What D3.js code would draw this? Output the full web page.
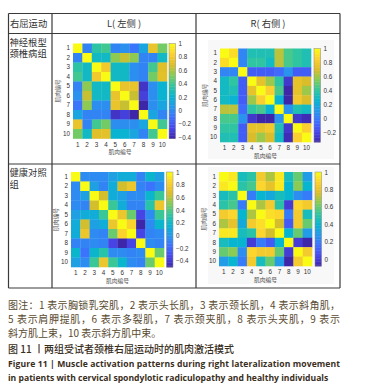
<!DOCTYPE html>
<html><head><meta charset="utf-8">
<script src="https://cdn.jsdelivr.net/npm/d3@7"></script>
<style>body{margin:0;background:#fff}</style>
</head><body><svg id="c" width="381" height="388"></svg>
<script>
// ---------------- DATA ----------------
const muscles = ["1","2","3","4","5","6","7","8","9","10"];
const axisTitle = "肌肉编号";
const headerLabels = ["右屈运动", "L( 左侧 )", "R( 右侧 )"];
const rowLabels = ["神经根型颈椎病组", "健康对照组"];

// patients, left side
const matPatientL = [
  [1.00,-0.02, 0.35, 0.40,-0.02, 0.03,-0.08, 0.12, 0.75, 0.50],
  [-0.02,1.00, 0.25, 0.25, 0.55, 0.65, 0.55,-0.02,-0.02, 0.25],
  [0.35, 0.25, 1.00, 0.80, 0.25, 0.25, 0.02,-0.02, 0.40, 0.70],
  [0.40, 0.25, 0.80, 1.00, 0.25, 0.25, 0.02,-0.02, 0.50, 0.72],
  [-0.02,0.55, 0.25, 0.25, 1.00, 0.75, 0.75,-0.35, 0.02, 0.20],
  [0.03, 0.65, 0.25, 0.25, 0.75, 1.00, 0.65,-0.30, 0.02, 0.20],
  [-0.08,0.55, 0.02, 0.02, 0.75, 0.65, 1.00,-0.42, 0.02, 0.12],
  [0.12,-0.02,-0.02,-0.02,-0.35,-0.30,-0.42, 1.00, 0.12,-0.02],
  [0.75,-0.02, 0.40, 0.50, 0.02, 0.02, 0.02, 0.12, 1.00, 0.40],
  [0.50, 0.25, 0.70, 0.72, 0.20, 0.20, 0.12,-0.02, 0.40, 1.00]
];
// patients, right side
const matPatientR = [
  [1.00, 0.90, 0.05, 0.35, 0.35, 0.35, 0.65, 0.45, 0.40, 0.35],
  [0.90, 1.00, 0.05, 0.40, 0.40, 0.30, 0.65, 0.45, 0.40, 0.35],
  [0.05, 0.05, 1.00,-0.10,-0.10,-0.10,-0.05, 0.10,-0.10,-0.10],
  [0.30, 0.40,-0.10, 1.00, 0.75, 0.60, 0.40,-0.25, 0.75, 0.70],
  [0.30, 0.35,-0.10, 0.75, 1.00, 0.85, 0.45,-0.33, 0.75, 0.60],
  [0.30, 0.25,-0.10, 0.60, 0.85, 1.00, 0.25,-0.33, 0.80, 0.70],
  [0.65, 0.65,-0.05, 0.40, 0.45, 0.25, 1.00, 0.10, 0.35, 0.30],
  [0.45, 0.45, 0.10,-0.25,-0.33,-0.33, 0.10, 1.00,-0.25,-0.30],
  [0.40, 0.40,-0.10, 0.75, 0.75, 0.80, 0.35,-0.25, 1.00, 0.85],
  [0.35, 0.35,-0.10, 0.70, 0.60, 0.70, 0.30,-0.30, 0.85, 1.00]
];
// healthy, left side
const matHealthyL = [
  [1.00,-0.05,-0.05,-0.05, 0.05, 0.12, 0.12,-0.08, 0.18, 0.05],
  [-0.05,1.00, 0.05,-0.08, 0.12, 0.65, 0.75,-0.08,-0.15,-0.05],
  [-0.05,0.05, 1.00, 0.65, 0.12, 0.05,-0.05,-0.05, 0.18, 0.35],
  [-0.05,-0.08,0.65, 1.00, 0.35, 0.12,-0.08,-0.08, 0.30, 0.75],
  [0.05, 0.12, 0.12, 0.35, 1.00, 0.75, 0.45,-0.35,-0.05, 0.35],
  [0.12, 0.65, 0.05, 0.12, 0.75, 1.00, 0.85,-0.50,-0.05, 0.18],
  [0.12, 0.75,-0.05,-0.08, 0.45, 0.85, 1.00,-0.35,-0.08,-0.05],
  [-0.08,-0.08,-0.05,-0.08,-0.35,-0.50,-0.35, 1.00,-0.05,-0.08],
  [0.18,-0.15, 0.18, 0.30,-0.05,-0.05,-0.08,-0.05, 1.00, 0.45],
  [0.05,-0.05, 0.35, 0.75, 0.35, 0.18,-0.05,-0.08, 0.45, 1.00]
];
// healthy, right side
const matHealthyR = [
  [1.00, 0.95, 0.45, 0.50, 0.85, 0.70, 0.95, 0.45, 0.60, 0.30],
  [0.95, 1.00, 0.50, 0.55, 0.90, 0.80, 0.95, 0.40, 0.65, 0.40],
  [0.45, 0.50, 1.00, 0.20, 0.40, 0.35, 0.45, 0.40, 0.25, 0.20],
  [0.50, 0.55, 0.20, 1.00, 0.70, 0.85, 0.50, 0.00, 0.90, 0.85],
  [0.85, 0.90, 0.40, 0.70, 1.00, 0.92, 0.90, 0.20, 0.85, 0.45],
  [0.70, 0.80, 0.35, 0.85, 0.92, 1.00, 0.75, 0.10, 0.85, 0.60],
  [0.95, 0.95, 0.45, 0.50, 0.90, 0.75, 1.00, 0.40, 0.60, 0.30],
  [0.45, 0.40, 0.40, 0.00, 0.20, 0.10, 0.40, 1.00, 0.00,-0.08],
  [0.60, 0.65, 0.25, 0.90, 0.85, 0.85, 0.60, 0.00, 1.00, 0.85],
  [0.30, 0.40, 0.20, 0.85, 0.45, 0.60, 0.30,-0.08, 0.85, 1.00]
];

const captionNote = [
  "图注：1 表示胸锁乳突肌，2 表示头长肌，3 表示颈长肌，4 表示斜角肌，",
  "5 表示肩胛提肌，6 表示多裂肌，7 表示颈夹肌，8 表示头夹肌，9 表示",
  "斜方肌上束，10 表示斜方肌中束。"
];
const captionTitleCN = "图 11 丨两组受试者颈椎右屈运动时的肌肉激活模式";
const captionTitleEN = [
  "Figure 11  |  Muscle activation patterns during right lateralization movement",
  "in patients with cervical spondylotic radiculopathy and healthy individuals"
];

// ---------------- DRAW ----------------
const svg = d3.select("#c");
const CJK = "'Noto Sans CJK SC', 'Noto Sans', sans-serif";
const SANS = "'Liberation Sans', Arial, sans-serif";

// parula colormap (10 samples)
const parulaRGB = [
  [0.2422,0.1504,0.6603],[0.2803,0.2782,0.9221],[0.2440,0.4358,0.9988],
  [0.1540,0.5902,0.9218],[0.0297,0.7082,0.8163],[0.1938,0.7758,0.6251],
  [0.5044,0.7993,0.3480],[0.8634,0.7406,0.1596],[0.9892,0.8136,0.1885],
  [0.9769,0.9839,0.0805]
].map(c => d3.rgb(c[0]*255, c[1]*255, c[2]*255).toString());
const parula = d3.scaleLinear()
  .domain(parulaRGB.map((_, i) => i / (parulaRGB.length - 1))).range(parulaRGB)
  .interpolate(d3.interpolateRgb).clamp(true);

// Table
const tbl = svg.append("g").attr("stroke", "#3a3a3a").attr("stroke-width", 1.2);
const tx = [8.5, 52, 196, 340], ty = [13.5, 33.5, 164, 288];
tx.forEach(x => tbl.append("line").attr("x1", x).attr("x2", x).attr("y1", ty[0]).attr("y2", ty[3]));
ty.forEach(y => tbl.append("line").attr("x1", tx[0]).attr("x2", tx[3]).attr("y1", y).attr("y2", y));

svg.append("text").attr("x", 10).attr("y", 27).text(headerLabels[0])
  .attr("font-family", CJK).attr("font-size", 9.3).attr("fill", "#333");
svg.append("text").attr("x", (tx[1]+tx[2])/2).attr("y", 27).attr("text-anchor", "middle").text(headerLabels[1])
  .attr("font-family", CJK).attr("font-size", 9.3).attr("fill", "#333");
svg.append("text").attr("x", (tx[2]+tx[3])/2).attr("y", 27).attr("text-anchor", "middle").text(headerLabels[2])
  .attr("font-family", CJK).attr("font-size", 9.3).attr("fill", "#333");
// row labels wrap inside their table cell
rowLabels.forEach((s, r) => {
  svg.append("foreignObject").attr("x", 9.5).attr("y", ty[r+1] + 3).attr("width", 40).attr("height", 30)
    .append("xhtml:div")
    .style("font-family", CJK).style("font-size", "9.3px").style("line-height", "11.5px")
    .style("color", "#333").style("word-break", "break-all")
    .text(s);
});

// Heatmap panels
const panels = [
  {m: matPatientL, x: 73, y: 43.5, w: 94, h: 95, cbx: 169, bg: null},
  {m: matPatientR, x: 220, y: 48.5, w: 91, h: 93.5, cbx: 314, bg: [208, 40, 126, 119]},
  {m: matHealthyL, x: 71, y: 172, w: 93, h: 95, cbx: 166.5, bg: null},
  {m: matHealthyR, x: 219, y: 172, w: 93, h: 94, cbx: 315, bg: [208, 167, 126, 117]}
];

panels.forEach(p => {
  const g = svg.append("g");
  if (p.bg) g.append("rect").attr("x", p.bg[0]).attr("y", p.bg[1]).attr("width", p.bg[2]).attr("height", p.bg[3]).attr("fill", "#f8f8f8");
  const flat = p.m.flat();
  const [vmin, vmax] = d3.extent(flat);
  const color = v => parula((v - vmin) / (vmax - vmin));
  const xs = d3.scaleBand().domain(muscles).range([p.x, p.x + p.w]);
  const ys = d3.scaleBand().domain(muscles).range([p.y, p.y + p.h]);
  const cells = [];
  p.m.forEach((row, i) => row.forEach((v, j) => cells.push({r: muscles[i], c: muscles[j], v})));
  g.selectAll("rect.cell").data(cells).join("rect").attr("class", "cell")
    .attr("x", d => xs(d.c)).attr("y", d => ys(d.r))
    .attr("width", xs.bandwidth() + 0.3).attr("height", ys.bandwidth() + 0.3)
    .attr("fill", d => color(d.v));

  // axes
  const xa = g.append("g").attr("transform", `translate(0,${p.y + p.h})`)
    .call(d3.axisBottom(xs).tickSize(0).tickPadding(4));
  const ya = g.append("g").attr("transform", `translate(${p.x},0)`)
    .call(d3.axisLeft(ys).tickSize(0).tickPadding(3));
  [xa, ya].forEach(a => {
    a.select(".domain").remove();
    a.selectAll("text").attr("font-family", SANS).attr("font-size", 6.3).attr("fill", "#333");
  });
  g.append("text").attr("x", p.x + p.w/2).attr("y", p.y + p.h + 15.5).attr("text-anchor", "middle")
    .text(axisTitle).attr("font-family", CJK).attr("font-size", 5.8).attr("fill", "#555");
  g.append("text").attr("transform", `translate(${p.x - 13},${p.y + p.h/2}) rotate(-90)`)
    .attr("text-anchor", "middle").text(axisTitle)
    .attr("font-family", CJK).attr("font-size", 5.8).attr("fill", "#555");

  // colorbar
  const cbw = 6.5;
  const cs = d3.scaleLinear().domain([vmin, vmax]).range([p.y + p.h, p.y]);
  const n = 60;
  const steps = d3.range(n).map(k => vmin + (vmax - vmin) * (k + 0.5) / n);
  g.selectAll("rect.cb").data(steps).join("rect").attr("class", "cb")
    .attr("x", p.cbx).attr("width", cbw)
    .attr("y", d => cs(d + (vmax - vmin) / n / 2)).attr("height", p.h / n + 0.4)
    .attr("fill", d => color(d));
  g.append("rect").attr("x", p.cbx).attr("y", p.y).attr("width", cbw).attr("height", p.h)
    .attr("fill", "none").attr("stroke", "#888").attr("stroke-width", 0.5);
  const tv = d3.range(Math.ceil(vmin * 5 - 1e-6), Math.floor(vmax * 5 + 1e-6) + 1).map(k => +(k / 5).toFixed(1));
  const ca = g.append("g").attr("transform", `translate(${p.cbx + cbw},0)`)
    .call(d3.axisRight(cs).tickValues(tv).tickSize(0).tickPadding(3).tickFormat(d => d === 0 ? "0" : d3.format("")(d)));
  ca.select(".domain").remove();
  ca.selectAll("text").attr("font-family", SANS).attr("font-size", 6.3).attr("fill", "#333");
});

// Caption
const noteColor = "#5a4a30";
captionNote.forEach((t, i) => {
  const tt = svg.append("text").attr("x", 8).attr("y", 309 + i * 14).text(t)
    .attr("font-family", CJK).attr("font-size", 10).attr("fill", noteColor);
  if (i < 2) tt.attr("textLength", 332).attr("lengthAdjust", "spacing");
});
svg.append("text").attr("x", 8).attr("y", 353).text(captionTitleCN)
  .attr("font-family", CJK).attr("font-size", 10).attr("font-weight", 500).attr("fill", "#3a2e1c");
captionTitleEN.forEach((t, i) => {
  const tt = svg.append("text").attr("x", 8).attr("y", 367 + i * 14).text(t)
    .attr("font-family", "'Open Sans', sans-serif").attr("font-size", 8.6).attr("font-weight", 700).attr("fill", "#3a2e1c");
  if (i === 0) tt.attr("textLength", 332).attr("lengthAdjust", "spacing");
});
</script>
</body></html>
